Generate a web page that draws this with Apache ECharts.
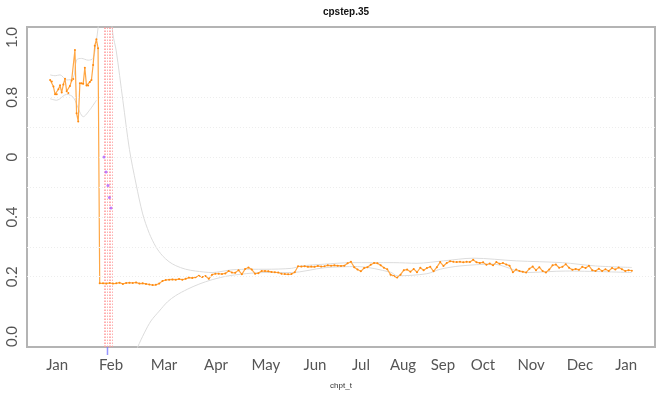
<!DOCTYPE html>
<html>
<head>
<meta charset="utf-8">
<script src="https://cdn.jsdelivr.net/npm/echarts@6/dist/echarts.min.js"></script>
<style>
  html, body { margin: 0; padding: 0; background: #fff; }
  #chart { width: 665px; height: 395px; }
</style>
</head>
<body>
<div id="chart"></div>
<script>
// ---- data (x is observation index) ----
var earlyStart = 14;
var earlyValues = [0.858, 0.853, 0.836, 0.81, 0.81, 0.827, 0.84, 0.816, 0.843, 0.862,
  0.82, 0.814, 0.838, 0.856, 0.861, 0.958, 0.747, 0.719, 0.847, 0.847,
  0.845, 0.899, 0.839, 0.839, 0.851, 0.858, 0.908, 0.972, 0.994, 0.964];

var lateStart = 44, lateStep = 2;
var lateValues = [
  0.178, 0.178, 0.177, 0.179, 0.177, 0.178, 0.18, 0.176, 0.179, 0.18,
  0.179, 0.181, 0.177, 0.178, 0.176, 0.174, 0.172, 0.173, 0.177, 0.186,
  0.189, 0.19, 0.191, 0.19, 0.192, 0.19, 0.193, 0.197, 0.196, 0.198,
  0.203, 0.199, 0.202, 0.193, 0.207, 0.21, 0.21, 0.209, 0.211, 0.219,
  0.214, 0.213, 0.222, 0.208, 0.226, 0.231, 0.224, 0.21, 0.212, 0.219,
  0.219, 0.218, 0.216, 0.215, 0.214, 0.21, 0.209, 0.208, 0.209, 0.215,
  0.235, 0.234, 0.235, 0.233, 0.234, 0.233, 0.236, 0.234, 0.235, 0.238,
  0.237, 0.238, 0.237, 0.236, 0.237, 0.245, 0.25, 0.232, 0.224, 0.218,
  0.229, 0.232, 0.24, 0.246, 0.245, 0.238, 0.23, 0.225, 0.207, 0.202,
  0.197, 0.207, 0.222, 0.224, 0.217, 0.226, 0.215, 0.23, 0.222, 0.229,
  0.233, 0.218, 0.232, 0.249, 0.236, 0.246, 0.252, 0.25, 0.249, 0.25,
  0.248, 0.25, 0.249, 0.257, 0.248, 0.246, 0.248, 0.24, 0.244, 0.238,
  0.249, 0.243, 0.246, 0.241, 0.237, 0.215, 0.224, 0.219, 0.217, 0.214,
  0.227, 0.234, 0.222, 0.232, 0.219, 0.214, 0.224, 0.238, 0.241, 0.23,
  0.233, 0.242, 0.23, 0.223, 0.226, 0.223, 0.233, 0.229, 0.237, 0.222,
  0.219, 0.227, 0.219, 0.225, 0.219, 0.229, 0.224, 0.231, 0.225, 0.219,
  0.222, 0.22];

var upperT = [14, 17, 20, 24, 28, 30, 33, 37, 40, 42, 44, 47, 50, 52, 54, 58, 62, 66, 70, 74,
  78, 82, 86, 90, 96, 102, 112, 124, 136, 144, 160, 166, 180, 196, 222, 236, 252, 270, 296, 324, 344, 366];
var upperV = [0.875, 0.872, 0.875, 0.858, 0.864, 0.925, 0.93, 0.924, 0.93, 0.99, 1.08, 1.25, 1.12, 1.01,
  0.955, 0.79, 0.625, 0.51, 0.41, 0.345, 0.3, 0.27, 0.25, 0.237, 0.225, 0.219, 0.214, 0.223, 0.225,
  0.225, 0.228, 0.236, 0.242, 0.247, 0.247, 0.245, 0.253, 0.262, 0.253, 0.247, 0.236, 0.231];

var lowerEarlyT = [14, 18, 24, 28, 32, 34, 38, 42];
var lowerEarlyV = [0.795, 0.79, 0.81, 0.80, 0.75, 0.735, 0.758, 0.79];
var lowerLateT = [60, 63, 67, 71, 75, 80, 85, 90, 97, 104, 112, 122, 136, 144, 160, 180, 200,
  220, 224, 242, 250, 262, 282, 302, 326, 366];
var lowerLateV = [-0.15, -0.09, -0.035, 0.012, 0.052, 0.085, 0.116, 0.137, 0.158, 0.175, 0.19,
  0.203, 0.212, 0.214, 0.214, 0.23, 0.234, 0.215, 0.203, 0.21, 0.225, 0.236, 0.242, 0.214, 0.219, 0.214];

var changepoints = [46.5, 47.5, 48.5, 49.5, 50.5, 51.3];
var cpT = [46.6, 47.8, 49.0, 49.9, 50.8];
var cpV = [0.60, 0.55, 0.505, 0.465, 0.43];
var rugT = [48.7];

var monthTicks = [18.2, 50.8, 82.9, 114.4, 144.6, 174.3, 202.1, 227.5, 251.7, 275.9, 305.0, 334.6, 362.5];
var monthNames = ['Jan', 'Feb', 'Mar', 'Apr', 'May', 'Jun', 'Jul', 'Aug', 'Sep', 'Oct', 'Nov', 'Dec', 'Jan'];

var yTicks = [0, 0.2, 0.4, 0.6, 0.8, 1.0];
var yTickLabels = ['0.0', '0.2', '0.4', '0', '0.8', '1.0'];
var gridYs = [0.2, 0.3, 0.4, 0.5, 0.6, 0.7, 0.8];

// ---- build series data ----
var mainData = [];
earlyValues.forEach(function (v, k) { mainData.push([earlyStart + k, v]); });
lateValues.forEach(function (v, k) { mainData.push([lateStart + lateStep * k, v]); });
function pairs(t, v) { return t.map(function (x, i) { return [x, v[i]]; }); }
var lowerData = pairs(lowerEarlyT, lowerEarlyV).concat([[43, null]]).concat(pairs(lowerLateT, lowerLateV));

function nearestLabel(val, ticks, labels) {
  var best = 0, bd = Infinity;
  ticks.forEach(function (t, i) { var d = Math.abs(t - val); if (d < bd) { bd = d; best = i; } });
  return labels[best];
}

var chart = echarts.init(document.getElementById('chart'), null, { renderer: 'canvas' });
chart.setOption({
  animation: false,
  backgroundColor: '#ffffff',
  title: {
    text: 'cpstep.35', left: 341, top: 2, textAlign: 'center',
    textStyle: { fontSize: 10, fontWeight: 'bold', color: '#111', fontFamily: 'Liberation Sans' }
  },
  grid: { left: 27, right: 10, top: 27, bottom: 47, show: true, borderColor: '#b4b4b4', borderWidth: 2, backgroundColor: 'transparent' },
  xAxis: {
    type: 'value', min: 0, max: 380,
    name: 'chpt_t', nameLocation: 'middle', nameGap: 35,
    nameTextStyle: { fontSize: 8, color: '#333', fontFamily: 'Liberation Sans' },
    axisLine: { show: false }, axisTick: { show: false }, splitLine: { show: false },
    axisLabel: {
      customValues: monthTicks, margin: 11, fontSize: 15, color: '#555', fontFamily: 'Lato',
      formatter: function (v) { return nearestLabel(v, monthTicks, monthNames); }
    }
  },
  yAxis: {
    type: 'value', min: -0.035, max: 1.035,
    axisLine: { show: false }, axisTick: { show: false }, splitLine: { show: false },
    axisLabel: {
      customValues: yTicks, rotate: 90, margin: 7, fontSize: 15, color: '#555', fontFamily: 'Lato',
      formatter: function (v) { return nearestLabel(v, yTicks, yTickLabels); }
    }
  },
  series: [
    {
      type: 'line', data: pairs(upperT, upperV), symbol: 'none', smooth: 0.3,
      lineStyle: { color: '#dcdcdc', width: 1 }, silent: true, z: 1,
      markLine: {
        silent: true, symbol: 'none', label: { show: false },
        lineStyle: { color: '#ededed', type: [1, 2], width: 1 },
        data: gridYs.map(function (y) { return { yAxis: y }; })
      }
    },
    {
      type: 'line', data: lowerData, symbol: 'none', smooth: 0.3, connectNulls: false,
      lineStyle: { color: '#dcdcdc', width: 1 }, silent: true, z: 1
    },
    {
      type: 'line', data: mainData, symbol: 'circle', symbolSize: 2,
      lineStyle: { color: '#ffa745', width: 1.2 }, itemStyle: { color: '#ff8a10' }, z: 3,
      markLine: {
        silent: true, symbol: 'none', label: { show: false }, z: 2,
        lineStyle: { color: '#ff9c9c', type: [1.5, 1.5], width: 1, opacity: 0.8 },
        data: changepoints.map(function (x) { return { xAxis: x }; })
      }
    },
    {
      type: 'scatter', data: pairs(cpT, cpV), symbolSize: 3,
      itemStyle: { color: '#b060ff' }, z: 10
    },
    {
      type: 'scatter', data: rugT.map(function (x) { return [x, -0.035]; }), symbol: 'rect',
      symbolSize: [1.5, 8], symbolOffset: [0, 4], clip: false,
      itemStyle: { color: '#7a7aff' }, z: 10
    }
  ]
});
</script>
</body>
</html>
